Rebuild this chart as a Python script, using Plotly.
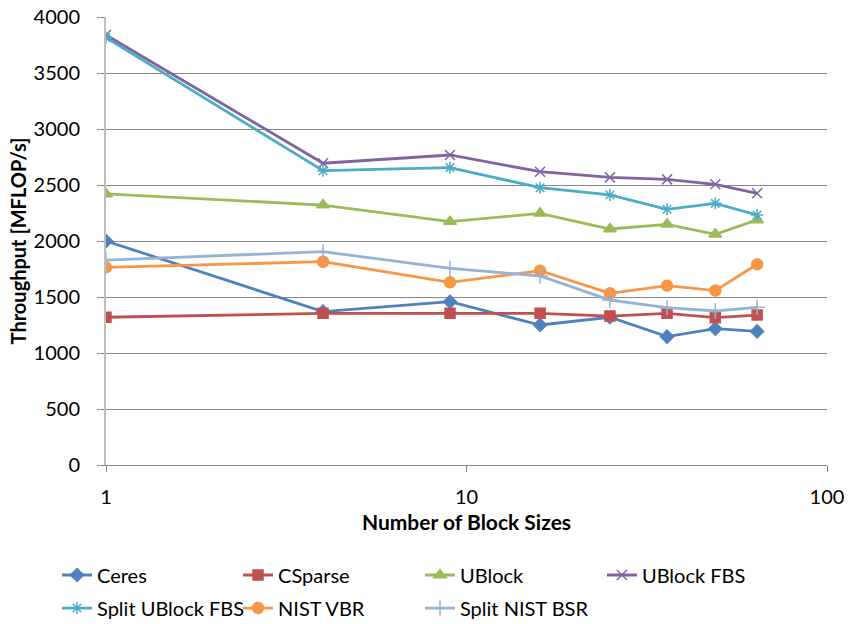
import plotly.graph_objects as go

block_sizes = [1, 4, 9, 16, 25, 36, 49, 64]

ceres = [2000, 1369, 1458, 1250, 1319, 1146, 1217, 1193]
csparse = [1319, 1354, 1354, 1354, 1330, 1354, 1315, 1339]
ublock = [2420, 2321, 2173, 2247, 2107, 2149, 2060, 2188]
ublock_fbs = [3839, 2694, 2768, 2619, 2568, 2550, 2506, 2426]
split_ublock_fbs = [3815, 2628, 2655, 2476, 2411, 2283, 2336, 2232]
nist_vbr = [1765, 1815, 1631, 1735, 1533, 1601, 1557, 1792]
split_nist_bsr = [1830, 1905, 1756, 1688, 1473, 1405, 1375, 1408]

series = [
    ("Ceres", ceres, "#4F81BD", "diamond", 10),
    ("CSparse", csparse, "#C0504D", "square", 10),
    ("UBlock", ublock, "#9BBB59", "triangle-up", 11),
    ("UBlock FBS", ublock_fbs, "#8064A2", "x-thin-open", 10),
    ("Split UBlock FBS", split_ublock_fbs, "#4BACC6", "asterisk-open", 10),
    ("NIST VBR", nist_vbr, "#F79646", "circle", 11),
    ("Split NIST BSR", split_nist_bsr, "#95B3D7", "cross-thin-open", 11),
]

W, H = 855, 624

# legend grid: 4 columns, 2 rows (container fractions)
col_x = [0.0667, 0.2784, 0.4912, 0.704]
row_y = [0.0785, 0.0256]

font = "Lato, 'Open Sans', sans-serif"
fs = 20

fig = go.Figure()
legends = {}
for i, (name, vals, color, sym, size) in enumerate(series):
    key = "legend" if i == 0 else f"legend{i + 1}"
    fig.add_trace(go.Scatter(
        x=block_sizes, y=vals, name=name, mode="lines+markers",
        line=dict(color=color, width=2.8),
        marker=dict(symbol=sym, size=size, color=color,
                    line=dict(color=color, width=1.5)),
        legend=key,
    ))
    legends[key] = dict(
        orientation="h", xref="container", yref="container",
        x=col_x[i % 4], y=row_y[i // 4], xanchor="left", yanchor="middle",
        font=dict(size=fs), itemwidth=30, bgcolor="rgba(0,0,0,0)",
    )

fig.update_layout(
    width=W, height=H,
    margin=dict(l=106, r=28, t=17, b=159),
    paper_bgcolor="white", plot_bgcolor="white",
    font=dict(family=font, size=fs, color="black"),
    showlegend=True,
    **legends,
)
fig.update_xaxes(
    type="log", range=[0, 2], automargin=False,
    tickvals=[1, 10, 100], ticktext=["1", "10", "100"],
    showgrid=False, zeroline=False,
    showline=True, linecolor="#868686", linewidth=1,
    ticks="outside", ticklen=6, tickcolor="#868686",
    ticklabelstandoff=8, ticklabeloverflow="allow",
    title=dict(text="<b>Number of Block Sizes</b>", font=dict(size=21), standoff=8),
)
fig.update_yaxes(
    range=[0, 4000], tickvals=[0, 500, 1000, 1500, 2000, 2500, 3000, 3500, 4000],
    automargin=False,
    showgrid=True, gridcolor="#878787", gridwidth=1, zeroline=False,
    showline=True, linecolor="#BFBFBF", linewidth=2,
    ticks="outside", ticklen=7, tickcolor="#878787",
    ticklabelstandoff=13, ticklabeloverflow="allow",
    title=dict(text="<b>Throughput [MFLOP/s]</b>", font=dict(size=20), standoff=2),
)

fig.write_html("out.html", config={"displayModeBar": False},
               post_script="document.body.style.margin='0';")
